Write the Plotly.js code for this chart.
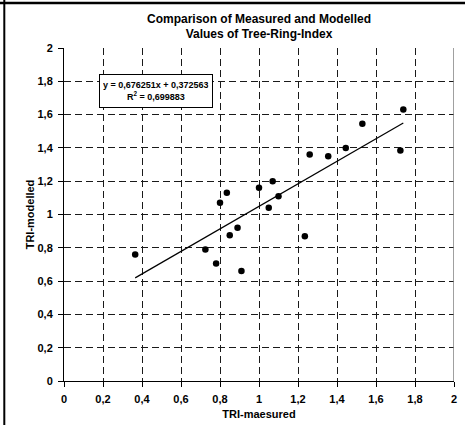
<!DOCTYPE html>
<html>
<head>
<meta charset="utf-8">
<script src="https://cdn.plot.ly/plotly-3.0.1.min.js"></script>
<style>
  html, body { margin: 0; padding: 0; background: #ffffff; }
  #chart { width: 465px; height: 425px; }
</style>
</head>
<body>
<div id="chart"></div>
<script>
// Tree-ring index: measured vs. modelled values
const measured = [0.365, 0.725, 0.78, 0.80, 0.835, 0.85, 0.89, 0.91, 1.00, 1.05, 1.07, 1.10, 1.235, 1.26, 1.355, 1.445, 1.53, 1.725, 1.74];
const modelled = [0.76, 0.79, 0.705, 1.07, 1.13, 0.875, 0.92, 0.66, 1.16, 1.04, 1.20, 1.11, 0.87, 1.36, 1.35, 1.40, 1.545, 1.385, 1.63];

// Linear trend line (least squares) as reported in the label
const slope = 0.676251;
const intercept = 0.372563;
const rSquared = 0.699883;

const tickVals = [0, 0.2, 0.4, 0.6, 0.8, 1, 1.2, 1.4, 1.6, 1.8, 2];
const tickText = ['0', '0,2', '0,4', '0,6', '0,8', '1', '1,2', '1,4', '1,6', '1,8', '2'];

const fmt = v => v.toFixed(6).replace('.', ',');

const xMin = Math.min(...measured);
const xMax = Math.max(...measured);
const trendX = [xMin, xMax];
const trendY = trendX.map(x => slope * x + intercept);

const FONT = 'Liberation Sans, Arial, sans-serif';

const traces = [
  {
    x: measured, y: modelled,
    type: 'scatter', mode: 'markers',
    marker: { color: '#000000', size: 6.5 },
    hoverinfo: 'x+y', showlegend: false
  },
  {
    x: trendX, y: trendY,
    type: 'scatter', mode: 'lines',
    line: { color: '#000000', width: 1.2 },
    hoverinfo: 'skip', showlegend: false
  }
];

const axisCommon = {
  range: [0, 2],
  tickvals: tickVals,
  ticktext: tickText,
  showline: true,
  linecolor: '#000000',
  linewidth: 1,
  ticks: 'outside',
  ticklen: 5,
  tickwidth: 1,
  tickcolor: '#000000',
  showgrid: true,
  gridcolor: '#1a1a1a',
  gridwidth: 1,
  griddash: '7px,4px',
  zeroline: false,
  tickfont: { family: FONT, size: 11, color: '#000000', weight: 'bold' },
  fixedrange: true
};

const layout = {
  width: 465,
  height: 425,
  margin: { l: 64, r: 11, t: 48, b: 44 },
  paper_bgcolor: '#ffffff',
  plot_bgcolor: '#ffffff',
  font: { family: FONT, color: '#000000' },
  title: {
    text: 'Comparison of Measured and Modelled<br>Values of Tree-Ring-Index',
    font: { family: FONT, size: 12, color: '#000000', weight: 'bold' },
    x: 0.5, xref: 'paper', xanchor: 'center',
    y: 1 - 22.5 / 425, yref: 'container', yanchor: 'middle'
  },
  xaxis: Object.assign({}, axisCommon, {
    ticklabelstandoff: 3,
    title: { text: 'TRI-maesured', font: { family: FONT, size: 11, color: '#000000', weight: 'bold' }, standoff: 6 }
  }),
  yaxis: Object.assign({}, axisCommon, {
    ticklabelstandoff: 3,
    title: { text: 'TRI-modelled', font: { family: FONT, size: 11, color: '#000000', weight: 'bold' }, standoff: 0 }
  }),
  shapes: [
    // plot-area right edge
    { type: 'line', xref: 'x', yref: 'y', x0: 2, x1: 2, y0: 0, y1: 2,
      line: { color: '#808080', width: 1.5 } },
    // outer frame: top and left edges
    { type: 'line', xref: 'paper', yref: 'paper', x0: -0.2, x1: 1.1, y0: (381 - 3) / 333, y1: (381 - 3) / 333,
      line: { color: '#000000', width: 2.5 } },
    { type: 'line', xref: 'paper', yref: 'paper', x0: (4.3 - 64) / 390, x1: (4.3 - 64) / 390, y0: -0.2, y1: 1.2,
      line: { color: '#000000', width: 2 } }
  ],
  annotations: [
    {
      xref: 'x', yref: 'y', x: 0.472, y: 1.742,
      xanchor: 'center', yanchor: 'middle',
      showarrow: false,
      text: 'y = ' + fmt(slope) + 'x + ' + fmt(intercept) + '<br>R<sup>2</sup> = ' + fmt(rSquared),
      font: { family: FONT, size: 9, color: '#000000', weight: 'bold' },
      bgcolor: '#ffffff',
      bordercolor: '#000000',
      borderwidth: 1,
      borderpad: 3,
      height: 26,
      align: 'center'
    }
  ]
};

Plotly.newPlot('chart', traces, layout, { displayModeBar: false, staticPlot: true });
</script>
</body>
</html>
